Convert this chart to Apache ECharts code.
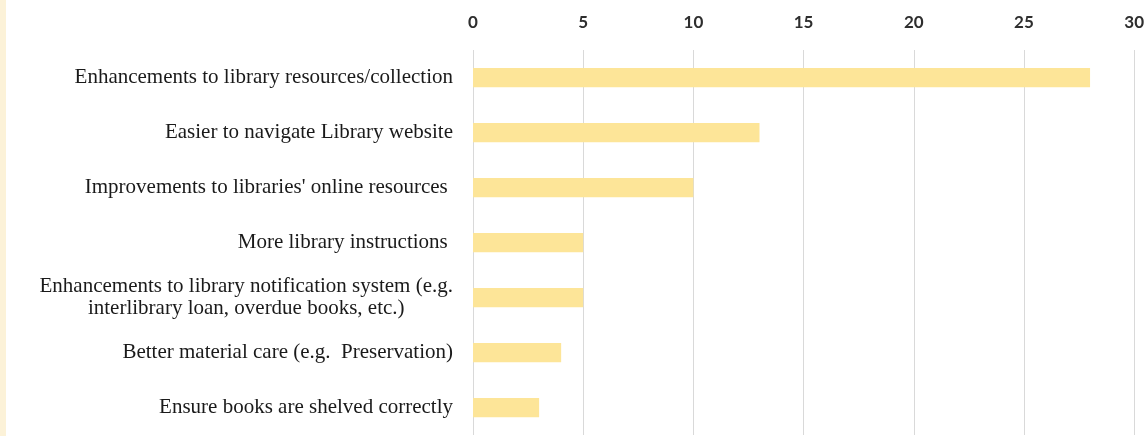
<!DOCTYPE html>
<html>
<head>
<meta charset="utf-8">
<script src="https://cdn.jsdelivr.net/npm/echarts@6/dist/echarts.min.js"></script>
<style>
html,body{margin:0;padding:0;background:#fff;}
#wrap{width:1147px;height:436px;position:relative;overflow:hidden;}
#stripe{position:absolute;left:0;top:0;width:6px;height:436px;background:#fcf2d8;}
#chart{position:absolute;left:0;top:0;width:1147px;height:436px;}
</style>
</head>
<body>
<div id="wrap"><div id="chart"></div><div id="stripe"></div></div>
<script>
const categories = [
  "Enhancements to library resources/collection",
  "Easier to navigate Library website",
  "Improvements to libraries' online resources ",
  "More library instructions ",
  "Enhancements to library notification system (e.g.\ninterlibrary loan, overdue books, etc.)",
  "Better material care (e.g.  Preservation)",
  "Ensure books are shelved correctly"
];
const values = [28, 13, 10, 5, 5, 4, 3];
const xTicks = [0, 5, 10, 15, 20, 25, 30];

const chart = echarts.init(document.getElementById('chart'), null, {renderer: 'canvas'});
chart.setOption({
  animation: false,
  backgroundColor: '#ffffff',
  grid: {left: 473, right: 11, top: 50, bottom: 1, containLabel: false},
  xAxis: {
    type: 'value',
    position: 'top',
    min: xTicks[0],
    max: xTicks[xTicks.length - 1],
    interval: 5,
    axisLine: {show: false},
    axisTick: {show: false},
    axisLabel: {
      margin: 19,
      fontFamily: 'Lato',
      fontWeight: 'bold',
      fontSize: 17,
      color: '#2e2e2e'
    },
    splitLine: {show: true, lineStyle: {color: '#d9d9d9', width: 1}}
  },
  yAxis: {
    type: 'category',
    inverse: true,
    data: categories,
    axisLine: {show: false},
    axisTick: {show: false},
    axisLabel: {
      margin: 20,
      fontFamily: 'Liberation Serif',
      fontSize: 21,
      color: '#1a1a1a',
      lineHeight: 22,
      formatter: function (v) {
        return v.split('\n').map(function (s) { return '{c|' + s + '}'; }).join('\n');
      },
      rich: {
        c: {align: 'center', fontFamily: 'Liberation Serif', fontSize: 21, color: '#1a1a1a', lineHeight: 22}
      }
    }
  },
  series: [{
    type: 'bar',
    data: values,
    barCategoryGap: '65%',
    itemStyle: {color: '#fde598'},
    silent: true
  }]
});
</script>
</body>
</html>
